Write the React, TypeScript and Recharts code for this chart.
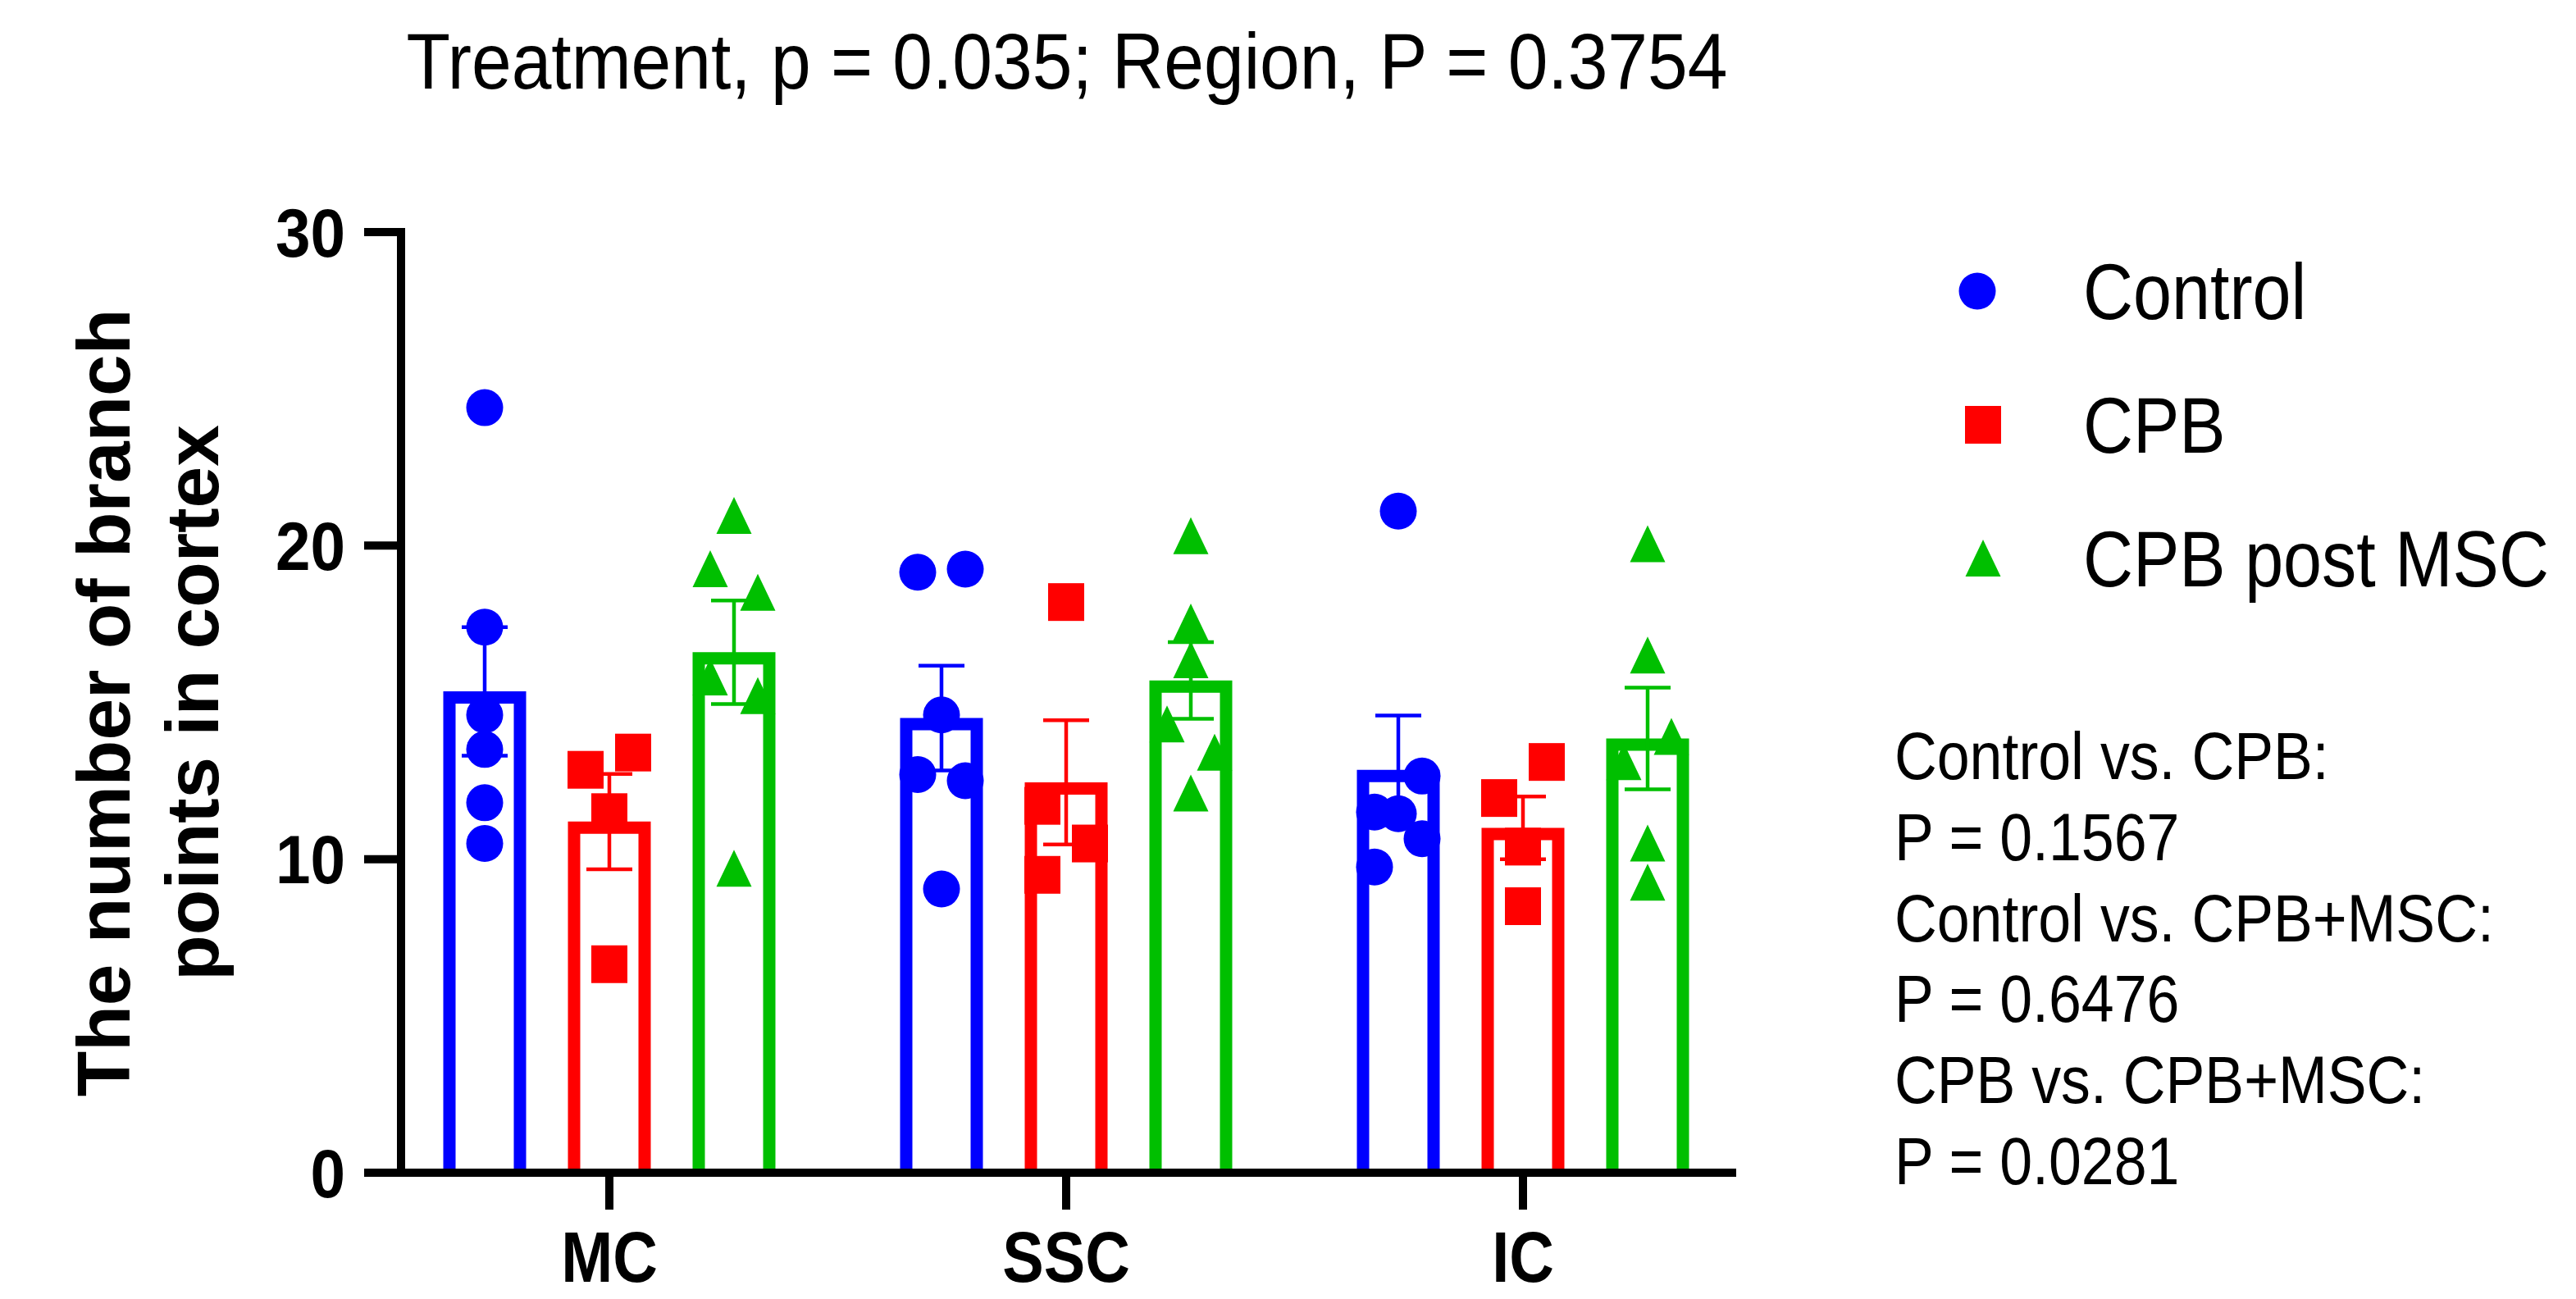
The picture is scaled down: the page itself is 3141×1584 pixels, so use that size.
import { ComposedChart, Bar, ErrorBar, Scatter, XAxis, YAxis, Legend } from "recharts";

const FONT = "'Liberation Sans', Arial, Helvetica, sans-serif";

const regions = ["MC", "SSC", "IC"];
const groups = ["Control", "CPB", "CPB post MSC"];
const colors = ["#0000FF", "#FF0000", "#00BF00"];
const shapes = ["circle", "square", "triangle"];

// group means (bar heights)
const controlMean = [15.35, 14.5, 12.85];
const cpbMean = [11.2, 12.45, 11.0];
const mscMean = [16.6, 15.7, 13.85];

// SEM
const controlSem = [2.05, 1.67, 1.73];
const cpbSem = [1.52, 1.98, 1.0];
const mscSem = [1.65, 1.22, 1.62];

// individual animals per region
const controlPoints = [
  [24.4, 17.4, 14.6, 13.5, 11.8, 10.5],
  [19.15, 19.25, 14.6, 12.7, 12.5, 9.05],
  [21.1, 12.65, 11.5, 11.45, 10.65, 9.75],
];
const cpbPoints = [
  [13.4, 12.85, 11.5, 6.65],
  [18.2, 11.7, 10.5, 9.5],
  [13.1, 11.95, 10.4, 8.5],
];
const mscPoints = [
  [20.95, 19.25, 18.5, 15.8, 15.2, 9.7],
  [20.3, 17.55, 16.35, 14.3, 13.4, 12.1],
  [20.05, 16.5, 13.9, 13.1, 10.5, 9.25],
];

// side-by-side placement of overlapping dots (-1 left, 0 middle, 1 right)
const controlLanes = [
  [0, 0, 0, 0, 0, 0],
  [-1, 1, 0, -1, 1, 0],
  [0, 1, -1, 0, 1, -1],
];
const cpbLanes = [
  [1, -1, 0, 0],
  [0, -1, 1, -1],
  [1, -1, 0, 0],
];
const mscLanes = [
  [0, -1, 1, -1, 1, 0],
  [0, 0, 0, -1, 1, 0],
  [0, 0, 1, -1, 0, 0],
];

const yTicks = [0, 10, 20, 30];

const comparisons = [
  "Control vs. CPB:",
  "P = 0.1567",
  "Control vs. CPB+MSC:",
  "P = 0.6476",
  "CPB vs. CPB+MSC:",
  "P = 0.0281",
];
const title = "Treatment, p = 0.035; Region, P = 0.3754";

const chartRows = regions.map((region, i) => ({
  region,
  control: controlMean[i],
  cpb: cpbMean[i],
  msc: mscMean[i],
  controlSem: controlSem[i],
  cpbSem: cpbSem[i],
  mscSem: mscSem[i],
}));

// bar centre spacing / band width, and dot lane spacing, in category units
const GROUP_STEP = 152 / 557;
const LANE_STEP = 29 / 557;

const toPoints = (values: number[][], lanes: number[][], gi: number) =>
  values.flatMap((vals, ri) =>
    vals.map((v, k) => ({ x: ri + (gi - 1) * GROUP_STEP + lanes[ri][k] * LANE_STEP, y: v }))
  );

const pointSets = [
  toPoints(controlPoints, controlLanes, 0),
  toPoints(cpbPoints, cpbLanes, 1),
  toPoints(mscPoints, mscLanes, 2),
];

const drawSymbol = (kind: string, cx: number, cy: number, color: string) => {
  if (kind === "circle") return <circle cx={cx} cy={cy} r={22.5} fill={color} />;
  if (kind === "square") return <rect x={cx - 22} y={cy - 23} width={44} height={46} fill={color} />;
  return <polygon points={`${cx},${cy - 23} ${cx - 21.5},${cy + 22} ${cx + 21.5},${cy + 22}`} fill={color} />;
};

const SW = 15;
const HollowBar = (props: any) => {
  const { x, y, width, height, fill } = props;
  if (height == null || height <= 0) return null;
  const h = SW / 2;
  return (
    <path
      d={`M${x + h},${y + height} L${x + h},${y + h} L${x + width - h},${y + h} L${x + width - h},${y + height}`}
      fill="none"
      stroke={fill}
      strokeWidth={SW}
    />
  );
};

const YTick = (props: any) => {
  const { x, y, payload } = props;
  return (
    <text
      transform={`translate(${x},${y}) scale(0.91,1)`}
      textAnchor="end"
      dy="0.355em"
      fontSize={84}
      fontWeight="bold"
      fontFamily={FONT}
      fill="#000"
    >
      {payload.value}
    </text>
  );
};

const XTick = (props: any) => {
  const { x, y, payload } = props;
  return (
    <text
      transform={`translate(${x},${y}) scale(0.86,1)`}
      textAnchor="middle"
      dy="0.71em"
      fontSize={88}
      fontWeight="bold"
      fontFamily={FONT}
      fill="#000"
    >
      {payload.value}
    </text>
  );
};

const YLabel = () => (
  <text
    transform="rotate(-90, 158, 857)"
    x={158}
    y={857}
    textAnchor="middle"
    fontSize={91}
    fontWeight="bold"
    fontFamily={FONT}
    fill="#000"
  >
    <tspan x={158}>The number of branch</tspan>
    <tspan x={158} dy={108}>points in cortex</tspan>
  </text>
);

const LegendBox = () => (
  <svg width={770} height={460}>
    {groups.map((g, i) => (
      <g key={g}>
        {drawSymbol(shapes[i], i === 0 ? 41 : 48, 65 + i * 163, colors[i])}
        <text
          transform={`translate(170,${99 + i * 163}) scale(0.88,1)`}
          fontSize={96}
          fontFamily={FONT}
          fill="#000"
        >
          {g}
        </text>
      </g>
    ))}
  </svg>
);

const axisStyle = { stroke: "#000", strokeWidth: 10, strokeLinecap: "square" as const };
const tickStyle = { stroke: "#000", strokeWidth: 10 };
const xPadding = { left: -24.5, right: -23.5 };

export default function App() {
  return (
    <div style={{ position: "absolute", left: 0, top: 0, width: 3141, height: 1584, background: "#fff" }}>
      <ComposedChart
        width={3141}
        height={1584}
        data={chartRows}
        margin={{ top: 283, right: 1029, bottom: 0, left: 0 }}
        barSize={101}
        barGap={51}
      >
        <XAxis
          dataKey="region"
          height={154}
          padding={xPadding}
          axisLine={axisStyle}
          tickLine={tickStyle}
          tickSize={45}
          tickMargin={26}
          tick={<XTick />}
          interval={0}
        />
        <XAxis xAxisId="pts" type="number" dataKey="x" domain={[-0.5, 2.5]} padding={xPadding} hide allowDataOverflow />
        <YAxis
          width={489}
          domain={[0, 30]}
          ticks={yTicks}
          axisLine={axisStyle}
          tickLine={tickStyle}
          tickSize={45}
          tickMargin={23}
          tick={<YTick />}
          interval={0}
          label={{ content: <YLabel /> }}
        />
        <Bar dataKey="control" fill={colors[0]} shape={<HollowBar />} isAnimationActive={false}>
          <ErrorBar dataKey="controlSem" width={28} strokeWidth={4.5} stroke={colors[0]} />
        </Bar>
        <Bar dataKey="cpb" fill={colors[1]} shape={<HollowBar />} isAnimationActive={false}>
          <ErrorBar dataKey="cpbSem" width={28} strokeWidth={4.5} stroke={colors[1]} />
        </Bar>
        <Bar dataKey="msc" fill={colors[2]} shape={<HollowBar />} isAnimationActive={false}>
          <ErrorBar dataKey="mscSem" width={28} strokeWidth={4.5} stroke={colors[2]} />
        </Bar>
        {pointSets.map((pts, gi) => (
          <Scatter
            key={groups[gi]}
            name={groups[gi]}
            data={pts}
            dataKey="y"
            xAxisId="pts"
            isAnimationActive={false}
            shape={(p: any) => drawSymbol(shapes[gi], p.cx, p.cy, colors[gi])}
          />
        ))}
        <Legend
          layout="vertical"
          align="center"
          verticalAlign="middle"
          wrapperStyle={{ left: 2370, top: 290, width: 770 }}
          content={<LegendBox />}
        />
      </ComposedChart>
      <svg
        width={3141}
        height={1584}
        style={{ position: "absolute", left: 0, top: 0, pointerEvents: "none" }}
      >
        <text
          transform="translate(1301,108) scale(0.912,1)"
          textAnchor="middle"
          fontSize={96}
          fontFamily={FONT}
          fill="#000"
        >
          {title}
        </text>
        {comparisons.map((line, i) => (
          <text
            key={line}
            transform={`translate(2310,${950 + i * 98.8}) scale(0.885,1)`}
            fontSize={81}
            fontFamily={FONT}
            fill="#000"
          >
            {line}
          </text>
        ))}
      </svg>
    </div>
  );
}
